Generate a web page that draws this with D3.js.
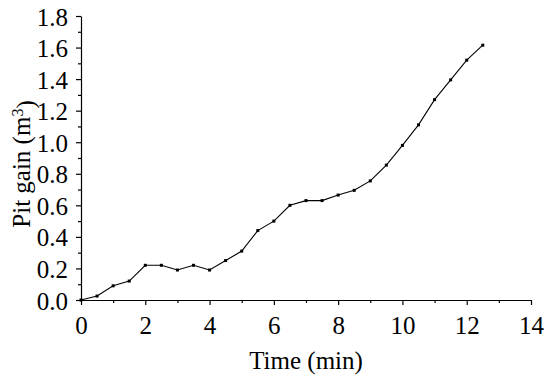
<!DOCTYPE html>
<html>
<head>
<meta charset="utf-8">
<script src="https://cdn.jsdelivr.net/npm/d3@7"></script>
<style>
  body { margin: 0; background: #fff; }
  text { font-family: "Liberation Serif", "Times New Roman", serif; fill: #000; }
</style>
</head>
<body>
<div id="graph"></div>
<script>
// time in minutes, pit gain in m3
var times = [0, 0.5, 1, 1.5, 2, 2.5, 3, 3.5, 4, 4.5, 5, 5.5, 6, 6.5, 7, 7.5, 8, 8.5, 9, 9.5, 10, 10.5, 11, 11.5, 12, 12.5];
var gains = [0, 0.025, 0.09, 0.12, 0.22, 0.22, 0.19, 0.22, 0.19, 0.25, 0.31, 0.44, 0.50, 0.60, 0.63, 0.63, 0.665, 0.695, 0.755, 0.855, 0.98, 1.11, 1.27, 1.395, 1.52, 1.615];
var xTicks = [0, 2, 4, 6, 8, 10, 12, 14];
var yTicks = [0, 0.2, 0.4, 0.6, 0.8, 1.0, 1.2, 1.4, 1.6, 1.8];

var data = times.map(function(t, i) { return { t: t, v: gains[i] }; });

var W = 550, H = 381;
var margin = { top: 16, right: 19, bottom: 81, left: 81 },
  width = W - margin.left - margin.right,
  height = H - margin.top - margin.bottom;

var svg = d3.select("#graph")
  .append("svg")
  .attr("width", W)
  .attr("height", H)
  .append("g")
  .attr("transform", "translate(" + margin.left + "," + margin.top + ")");

var x = d3.scaleLinear().domain([0, 14]).range([0, width]);
var y = d3.scaleLinear().domain([0, 1.8]).range([height, 0]);

// minor ticks
svg.append("g")
  .attr("transform", "translate(0," + height + ")")
  .call(d3.axisBottom(x).tickValues(d3.range(1, 14, 2)).tickSize(3).tickFormat(""))
  .call(g => g.select(".domain").remove());
svg.append("g")
  .call(d3.axisLeft(y).tickValues(d3.range(0.1, 1.8, 0.2)).tickSize(3).tickFormat(""))
  .call(g => g.select(".domain").remove());

// major axes
var xAxis = svg.append("g")
  .attr("transform", "translate(0," + height + ")")
  .call(d3.axisBottom(x).tickValues(xTicks).tickSize(5).tickSizeOuter(0).tickPadding(11).tickFormat(d3.format("d")));
xAxis.selectAll("text").style("font-size", "25px").attr("dy", "0.7em");

var yAxis = svg.append("g")
  .call(d3.axisLeft(y).tickValues(yTicks).tickSize(5).tickSizeOuter(0).tickPadding(8).tickFormat(d3.format(".1f")));
yAxis.selectAll("text").style("font-size", "25px").attr("dy", "0.36em");

svg.selectAll(".domain, .tick line").attr("stroke", "#000").attr("stroke-width", 1.2);

// line
svg.append("path")
  .datum(data)
  .attr("fill", "none")
  .attr("stroke", "#000")
  .attr("stroke-width", 1.1)
  .attr("d", d3.line().x(d => x(d.t)).y(d => y(d.v)));

svg.selectAll(".dot")
  .data(data)
  .enter()
  .append("rect")
  .attr("class", "dot")
  .attr("x", d => x(d.t) - 1.5)
  .attr("y", d => y(d.v) - 1.5)
  .attr("width", 3)
  .attr("height", 3)
  .attr("fill", "#000");

// axis titles
svg.append("text")
  .attr("transform", "translate(" + (width / 2) + "," + (height + 69) + ")")
  .attr("text-anchor", "middle")
  .style("font-size", "25px")
  .text("Time (min)");

var yl = svg.append("text")
  .attr("transform", "translate(" + (-51) + "," + (height / 2 + 6) + ") rotate(-90)")
  .attr("text-anchor", "middle")
  .style("font-size", "25px");
yl.append("tspan").text("Pit gain (m");
yl.append("tspan").attr("dy", "-0.45em").style("font-size", "16px").text("3");
yl.append("tspan").attr("dy", "0.45em").text(")");
</script>
</body>
</html>
